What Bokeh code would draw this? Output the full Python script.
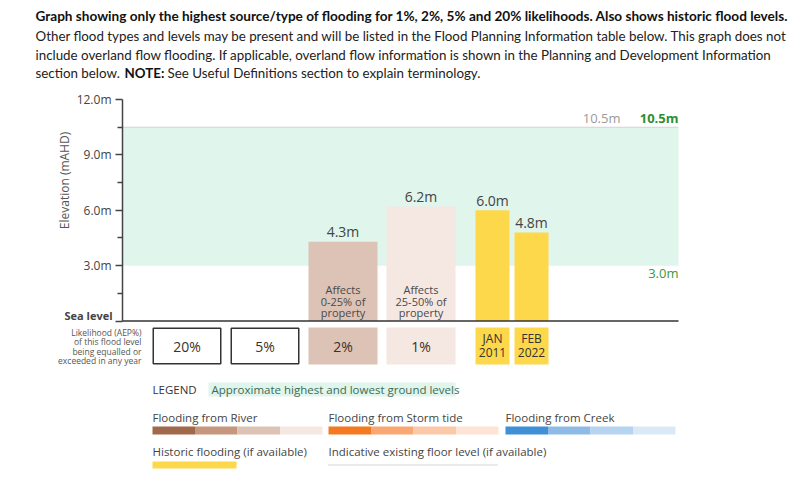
from bokeh.plotting import figure
from bokeh.models import Range1d, LinearAxis, FixedTicker, Label, ColumnDataSource
from bokeh.core.properties import value
from bokeh.embed import file_html
from bokeh.resources import INLINE

# ---------------- data ----------------
likelihoods = ["20%", "5%", "2%", "1%"]
flood_levels = [None, None, 4.3, 6.2]          # highest flood level (m AHD) per AEP
flood_notes = [None, None, ["Affects", "0-25% of", "property"], ["Affects", "25-50% of", "property"]]
historic_months = ["JAN", "FEB"]
historic_years = ["2011", "2022"]
historic_levels = [6.0, 4.8]
ground_low = 3.0
ground_high = 10.5
y_ticks = [0, 3, 6, 9, 12]
y_minor_ticks = [1.5, 4.5, 7.5, 10.5]
y_tick_labels = ["", "3.0m", "6.0m", "9.0m", "12.0m"]

river_cols = ["#a0694b", "#c6977f", "#dcc3b6", "#f5e7e2"]
storm_cols = ["#f47920", "#f9a874", "#fbc8a8", "#fde4d5"]
creek_cols = ["#3f90d6", "#8dbbe6", "#b6d4ef", "#dbe9f6"]
hist_col = "#fdd84b"
band_col = "#e0f5eb"

# ---------------- layout helpers (page px -> data) ----------------
W, H = 800, 482
AXIS_X = 122             # page x of the elevation axis
SEA = 320.5              # page y of sea level
PPM = (320.5 - 99) / 12  # px per metre


def X(px):
    return px - AXIS_X


def Y(py):
    return (SEA - py) / PPM


p = figure(width=W, height=H, output_backend="svg", toolbar_location=None,
           x_range=Range1d(X(0), X(W)), y_range=Range1d(Y(H), Y(0)),
           min_border_left=0, min_border_right=0, min_border_top=0,
           min_border_bottom=0, x_axis_location=None, y_axis_location=None)
p.outline_line_color = None
p.grid.visible = False
p.background_fill_color = "white"
p.border_fill_color = "white"

yax = LinearAxis(bounds=(0, 12), fixed_location=0)
yax.ticker = FixedTicker(ticks=y_ticks, minor_ticks=y_minor_ticks)
yax.major_label_overrides = {t: l for t, l in zip(y_ticks, y_tick_labels)}
yax.major_label_text_font = "Open Sans"
yax.major_label_text_font_size = "12px"
yax.major_label_text_color = "#444444"
yax.major_label_standoff = 4
yax.major_tick_out = 7
yax.major_tick_in = 0
yax.minor_tick_out = 5
yax.minor_tick_in = 0
yax.axis_line_width = 1.5
yax.axis_line_color = "#444444"
yax.major_tick_line_color = "#444444"
yax.major_tick_line_width = 1.5
yax.minor_tick_line_color = "#444444"
yax.minor_tick_line_width = 1.5
p.add_layout(yax, "left")

# ground level band
band_right = X(678)
p.quad(left=[0], right=[band_right], bottom=[ground_low], top=[ground_high],
       fill_color=band_col, line_color=None)
p.segment(x0=[0], x1=[band_right], y0=[ground_high], y1=[ground_high],
          line_color="#b0b0b0", line_width=1, line_dash="1 1")

# bars
SLOT0, PITCH, BW = X(152), 78, 69
bx, bl, bc, bt = [], [], [], []
nx, ny, nt = [], [], []
for i, (lk, lv, note) in enumerate(zip(likelihoods, flood_levels, flood_notes)):
    if lv is None:
        continue
    cx = SLOT0 + PITCH * i + BW / 2
    bx.append(cx)
    bl.append(lv)
    bc.append(river_cols[i])
    bt.append("%.1fm" % lv)
    for k, line in enumerate(note):
        nx.append(cx)
        ny.append(Y(289 + 11.5 * k))
        nt.append(line)
bars = ColumnDataSource(dict(x=bx, top=bl, color=bc, lab=bt))
p.vbar(x="x", top="top", bottom=0, width=BW, fill_color="color", line_color=None, source=bars)
p.text(x="x", y="top", text="lab", source=bars, text_font=value("Open Sans"),
       text_font_size="14px", text_color="#444444", text_align="center",
       text_baseline="middle", y_offset=-10)
p.text(x=nx, y=ny, text=nt, text_font=value("Open Sans"),
       text_font_size="11px", text_color="#4a4a4a", text_align="center",
       text_baseline="middle")

H0, HP, HW = X(475), 39, 34
hx = [H0 + HP * j + HW / 2 for j in range(len(historic_levels))]
hist = ColumnDataSource(dict(x=hx, top=historic_levels,
                             lab=["%.1fm" % v for v in historic_levels]))
p.vbar(x="x", top="top", bottom=0, width=HW, fill_color=hist_col, line_color=None, source=hist)
p.text(x="x", y="top", text="lab", source=hist, text_font=value("Open Sans"),
       text_font_size="14px", text_color="#444444", text_align="center",
       text_baseline="middle", y_offset=-10)

# sea level baseline
p.segment(x0=[0], x1=[band_right], y0=[0], y1=[0], line_color="#333333", line_width=1.5)

# likelihood table row
ct, cb = Y(327), Y(364)
cmid = Y(346)
tx = [SLOT0 + PITCH * i + BW / 2 for i in range(len(likelihoods))]
outlined = [i for i, lv in enumerate(flood_levels) if lv is None]
filled = [i for i, lv in enumerate(flood_levels) if lv is not None]
p.rect(x=[tx[i] for i in outlined], y=(ct + cb) / 2, width=BW - 1.5, height=ct - cb - 1.5 / PPM,
       fill_color="white", line_color="#333333", line_width=1.5)
p.rect(x=[tx[i] for i in filled], y=(ct + cb) / 2, width=BW, height=ct - cb,
       fill_color=[river_cols[i] for i in filled], line_color=None)
p.text(x=tx, y=[cmid] * len(tx), text=likelihoods, text_font=value("Open Sans"),
       text_font_size="14px", text_color="#333333", text_align="center",
       text_baseline="middle")
p.rect(x=hx, y=(ct + cb) / 2, width=HW, height=ct - cb, fill_color=hist_col, line_color=None)
p.text(x=hx, y=[Y(338)] * len(hx), text=historic_months, text_font=value("Open Sans"),
       text_font_size="12px", text_color="#333333", text_align="center", text_baseline="middle")
p.text(x=hx, y=[Y(352)] * len(hx), text=historic_years, text_font=value("Open Sans"),
       text_font_size="12px", text_color="#333333", text_align="center", text_baseline="middle")


def lab(x, y, text, size="11.5px", color="#444444", align="left", baseline="middle",
        font="Open Sans", style="normal", angle=0):
    p.add_layout(Label(x=X(x), y=Y(y), text=text, text_font=font, text_font_size=size,
                       text_color=color, text_align=align, text_baseline=baseline,
                       text_font_style=style, angle=angle))


# right side level labels
lab(620, 117, "10.5m", size="13px", color="#9a9a9a", align="right")
lab(678, 117, "10.5m", size="13px", color="#2f8f2f", align="right", style="bold")
lab(678, 272, "3.0m", size="13px", color="#3a9a3a", align="right")

# axis title and sea level
lab(64, 180, "Elevation (mAHD)", size="12px", color="#555555", align="center", angle=1.5708)
lab(112, 315, "Sea level", size="11px", color="#444444", align="right", style="bold")

# likelihood description
for k, t in enumerate(["Likelihood (AEP%)", "of this flood level", "being equalled or",
                       "exceeded in any year"]):
    lab(141, 332 + 9.4 * k, t, size="8.5px", color="#555555", align="right")

# header
HF = "Lato"
lab(35, 15, "Graph showing only the highest source/type of flooding for 1%, 2%, 5% and 20% "
    "likelihoods. Also shows historic flood levels.", size="13.6px", color="#111111",
    font=HF, style="bold")
lab(35, 35, "Other flood types and levels may be present and will be listed in the Flood "
    "Planning Information table below. This graph does not", size="13.35px", color="#222222", font=HF)
lab(35, 54, "include overland flow flooding. If applicable, overland flow information is shown "
    "in the Planning and Development Information", size="13.35px", color="#222222", font=HF)
lab(35, 72, "section below.", size="13.35px", color="#222222", font=HF)
lab(124, 72, "NOTE:", size="13.35px", color="#111111", font=HF, style="bold")
lab(167, 72, "See Useful Definitions section to explain terminology.", size="13.35px",
    color="#222222", font=HF)

# legend
lab(152, 389, "LEGEND", size="11.5px", color="#333333")
p.quad(left=[X(208)], right=[X(455)], bottom=[Y(396)], top=[Y(382)], fill_color=band_col,
       line_color=None)
lab(211, 389, "Approximate highest and lowest ground levels", size="11.5px", color="#3d6b55")

seg_w = 42.5
for gx, name, cols in [(152, "Flooding from River", river_cols),
                       (328, "Flooding from Storm tide", storm_cols),
                       (505, "Flooding from Creek", creek_cols)]:
    lab(gx, 417, name, size="11.5px", color="#444444")
    p.quad(left=[X(gx) + seg_w * k for k in range(4)],
           right=[X(gx) + seg_w * (k + 1) for k in range(4)],
           bottom=Y(434), top=Y(426), fill_color=cols, line_color=None)

lab(152, 451, "Historic flooding (if available)", size="11.5px", color="#444444")
p.quad(left=[X(152)], right=[X(236)], bottom=[Y(468)], top=[Y(461)], fill_color=hist_col,
       line_color=None)
lab(328, 451, "Indicative existing floor level (if available)", size="11.5px", color="#444444")
p.segment(x0=[X(328)], x1=[X(498)], y0=[Y(464.5)], y1=[Y(464.5)], line_color="#aaaaaa",
          line_width=1, line_dash="1 1")

open("out.html", "w").write(file_html(p, INLINE))
